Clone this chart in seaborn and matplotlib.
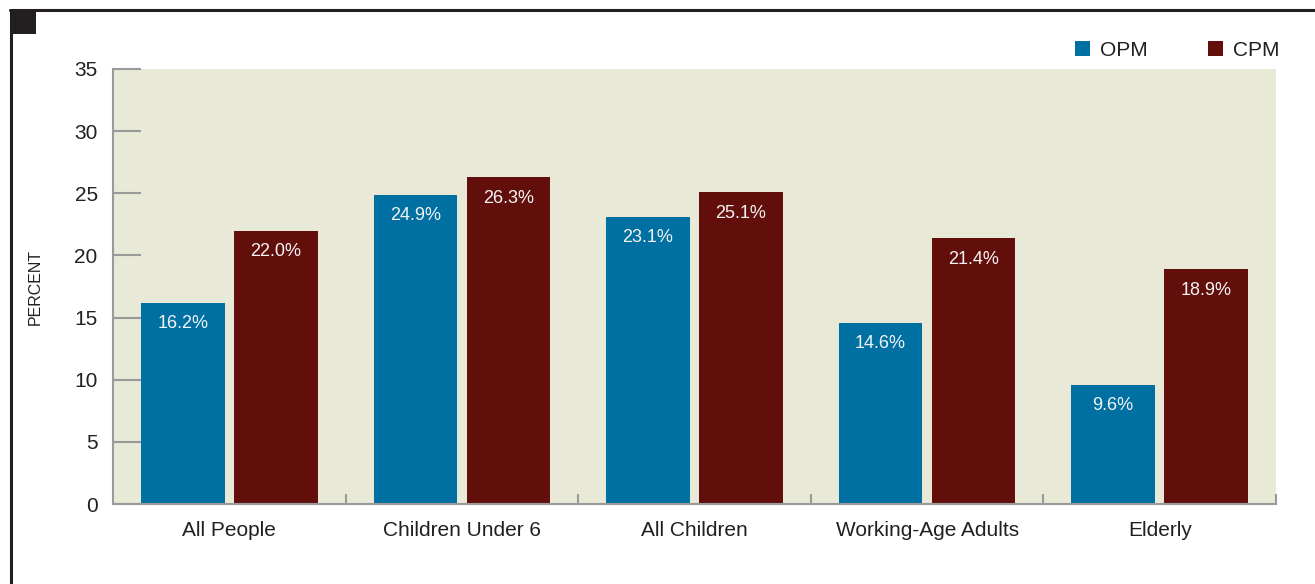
import numpy as np
import pandas as pd
import matplotlib.pyplot as plt
import seaborn as sns
from matplotlib.patches import Patch, Rectangle
from matplotlib.lines import Line2D

# values
groups = ["All People", "Children Under 6", "All Children", "Working-Age Adults", "Elderly"]
opm = [16.2, 24.9, 23.1, 14.6, 9.6]
cpm = [22.0, 26.3, 25.1, 21.4, 18.9]
measures = ["OPM", "CPM"]
colors = {"OPM": "#0070a2", "CPM": "#620f0c"}

df = pd.DataFrame({
    "group": groups * 2,
    "measure": ["OPM"] * len(groups) + ["CPM"] * len(groups),
    "value": opm + cpm,
})

sns.set_style("white")
plt.rcParams["font.family"] = ["Liberation Sans", "DejaVu Sans"]
text_col = "#231f20"
grey = "#9a9a9a"

fig = plt.figure(figsize=(13.15, 5.84), dpi=100)
ax = fig.add_axes([113 / 1315, 80 / 584, 1163 / 1315, 435 / 584])
ax.set_facecolor("#e8e9d7")

sns.barplot(data=df, x="group", y="value", hue="measure", hue_order=measures,
            order=groups, palette=colors, width=0.8, gap=0.1, linewidth=0,
            saturation=1, legend=False, ax=ax)

# value labels just inside the top of each bar
for cont in ax.containers:
    labels = ax.bar_label(cont, fmt="%.1f%%", padding=-9, color="#f4f4f4",
                          fontsize=13)
    for t in labels:
        t.set_va("top")

ax.set_xlim(-0.5, len(groups) - 0.5)
ax.set_ylim(0, 35)
ax.set_yticks(np.arange(0, 36, 5))
ax.set_xlabel("")
ax.set_ylabel("")

for side in ["top", "right"]:
    ax.spines[side].set_visible(False)
for side in ["left", "bottom"]:
    ax.spines[side].set_color(grey)
    ax.spines[side].set_linewidth(1.5)

ax.tick_params(axis="y", direction="in", length=20, width=1.5, color=grey,
               labelsize=15, labelcolor=text_col, pad=11, left=True)
ax.tick_params(axis="x", which="major", length=0, labelsize=15,
               labelcolor=text_col, pad=12)
ax.set_xticks(np.arange(0.5, len(groups), 1), minor=True)
ax.tick_params(axis="x", which="minor", direction="in", length=7, width=1.5,
               color=grey, bottom=True)

fig.text(35 / 1315, 1 - 287 / 584, "PERCENT", rotation=90, ha="center",
         va="center", fontsize=11.5, color=text_col)

handles = [Patch(facecolor=colors[m], edgecolor="none", label=m) for m in measures]
fig.legend(handles=handles, loc="center right", bbox_to_anchor=(1280 / 1315, 1 - 50 / 584),
           ncol=2, frameon=False, fontsize=15, handlelength=0.72, handleheight=0.72,
           handletextpad=0.5, columnspacing=2.9, borderaxespad=0, borderpad=0,
           labelcolor=text_col)

# page frame and corner marker
fig.add_artist(Line2D([10 / 1315, 1], [1 - 9.5 / 584] * 2, color=text_col, lw=2.2))
fig.add_artist(Line2D([10.5 / 1315] * 2, [0, 1 - 9.5 / 584], color=text_col, lw=2.2))
fig.add_artist(Rectangle((12 / 1315, 1 - 34 / 584), 24 / 1315, 23 / 584,
                         facecolor=text_col, edgecolor="none"))

fig.savefig("out.png", dpi=100)
